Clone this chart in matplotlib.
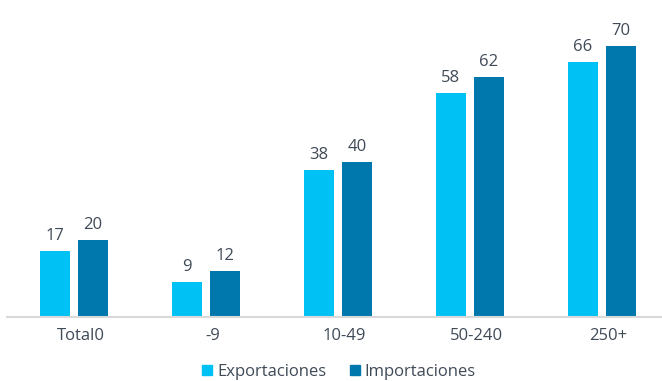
import matplotlib
matplotlib.use("Agg")
import matplotlib.pyplot as plt
import numpy as np
from matplotlib.patches import Patch

categories = ["Total0", "-9", "10-49", "50-240", "250+"]
exportaciones = [17, 9, 38, 58, 66]
importaciones = [20, 12, 40, 62, 70]

light = "#00C1F3"
dark = "#0077AD"
text_color = "#3F4A57"

plt.rcParams["font.family"] = ["Open Sans", "DejaVu Sans"]

fig = plt.figure(figsize=(6.62, 3.81), dpi=100)
ax = fig.add_axes([7 / 662, 64 / 381, 655 / 662, 317 / 381])

x = np.arange(len(categories))
width = 0.227
offset = 0.144

bars_exp = ax.bar(x - offset, exportaciones, width, color=light)
bars_imp = ax.bar(x + offset, importaciones, width, color=dark)

for bars, vals in ((bars_exp, exportaciones), (bars_imp, importaciones)):
    for b, v in zip(bars, vals):
        ax.annotate(str(v), (b.get_x() + b.get_width() / 2, v),
                    xytext=(0, 5), textcoords="offset points",
                    ha="center", va="bottom", fontsize=12, color=text_color)

ax.set_xlim(-0.508, 4.455)
ax.set_ylim(0, 82)
ax.set_xticks(x + 0.05)
ax.set_xticklabels(categories, fontsize=12, color=text_color)
ax.tick_params(axis="x", length=0, pad=8)
ax.set_yticks([])
for side in ("top", "right", "left"):
    ax.spines[side].set_visible(False)
ax.spines["bottom"].set_color("#D9D9D9")
ax.spines["bottom"].set_linewidth(1.5)

handles = [Patch(color=light, label="Exportaciones"),
           Patch(color=dark, label="Importaciones")]
fig.legend(handles=handles, loc="center", bbox_to_anchor=(0.512, 0.024),
           ncol=2, frameon=False, fontsize=12, handlelength=0.6,
           handleheight=0.6, handletextpad=0.3, columnspacing=1.4,
           labelcolor=text_color)

fig.savefig("out.png", dpi=100)
